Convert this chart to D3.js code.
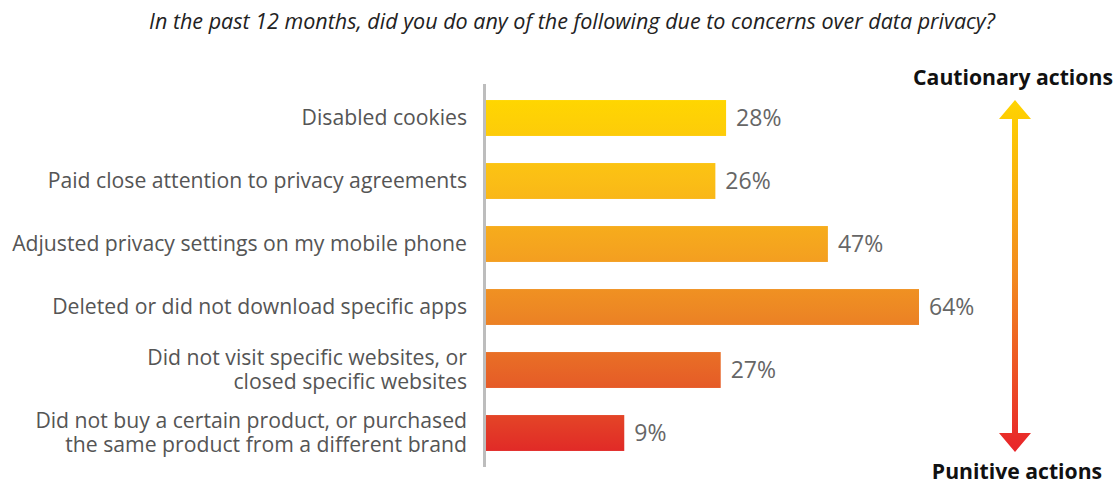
<!DOCTYPE html>
<html>
<head>
<meta charset="utf-8">
<script src="https://cdn.jsdelivr.net/npm/d3@7/dist/d3.min.js"></script>
<style>
  html, body { margin: 0; padding: 0; background: #fff; }
  svg { display: block; font-family: "Open Sans", sans-serif; }
</style>
</head>
<body>
<svg id="chart" width="1120" height="485"></svg>
<script>
// Survey responses: actions taken over data-privacy concerns
const categories = [
  ["Disabled cookies"],
  ["Paid close attention to privacy agreements"],
  ["Adjusted privacy settings on my mobile phone"],
  ["Deleted or did not download specific apps"],
  ["Did not visit specific websites, or", "closed specific websites"],
  ["Did not buy a certain product, or purchased", "the same product from a different brand"]
];
const values = [28, 26, 47, 64, 27, 9];
const valueLabels = ["28%", "26%", "47%", "64%", "27%", "9%"];
const title = "In the past 12 months, did you do any of the following due to concerns over data privacy?";
const topLabel = "Cautionary actions";
const bottomLabel = "Punitive actions";

const svg = d3.select("#chart");
const ids = d3.range(values.length);

const x = d3.scaleLinear().domain([-16.8, 64]).range([486, 919]);
const y = d3.scaleBand().domain(ids).range([86.5, 464.5])
  .paddingInner(0.43).paddingOuter(0.215);

const defs = svg.append("defs");
const barGrad = defs.append("linearGradient")
  .attr("id", "barGrad").attr("gradientUnits", "userSpaceOnUse")
  .attr("x1", 0).attr("x2", 0).attr("y1", y(0)).attr("y2", y(5) + y.bandwidth());
[[0, "#ffd600"], [0.22, "#fbbf15"], [0.45, "#f4a020"], [0.62, "#ec8424"], [0.8, "#e65f27"], [1, "#e12a27"]]
  .forEach(([o, c]) => barGrad.append("stop").attr("offset", o).attr("stop-color", c));

const arrowGrad = defs.append("linearGradient")
  .attr("id", "arrowGrad").attr("gradientUnits", "userSpaceOnUse")
  .attr("x1", 0).attr("x2", 0).attr("y1", 100).attr("y2", 452);
[[0, "#ffd400"], [0.5, "#f28a1f"], [1, "#e8242a"]]
  .forEach(([o, c]) => arrowGrad.append("stop").attr("offset", o).attr("stop-color", c));

// Title
svg.append("text")
  .attr("x", 572).attr("y", 29)
  .attr("text-anchor", "middle")
  .attr("font-style", "italic")
  .attr("font-size", 21.5)
  .attr("fill", "#222")
  .text(title);

// Bars
svg.append("g").selectAll("rect").data(ids).join("rect")
  .attr("x", x.range()[0])
  .attr("y", i => y(i))
  .attr("width", i => x(values[i]) - x.range()[0])
  .attr("height", y.bandwidth())
  .attr("fill", "url(#barGrad)");

// Value labels
svg.append("g").selectAll("text").data(ids).join("text")
  .attr("x", i => x(values[i]) + 10)
  .attr("y", i => y(i) + y.bandwidth() / 2)
  .attr("dy", "0.35em")
  .attr("font-size", 23)
  .attr("fill", "#666")
  .text(i => valueLabels[i]);

// Category labels, one text element per line
const lineH = 24;
const labelLines = ids.flatMap(i => categories[i].map((l, k) => ({
  text: l,
  cy: y(i) + y.bandwidth() / 2 + (k - (categories[i].length - 1) / 2) * lineH
})));
svg.append("g").selectAll("text").data(labelLines).join("text")
  .attr("text-anchor", "end")
  .attr("font-size", 21.2)
  .attr("fill", "#555")
  .attr("x", 467)
  .attr("y", d => d.cy)
  .attr("dy", "0.35em")
  .text(d => d.text);

// Vertical baseline
svg.append("line")
  .attr("x1", 484.5).attr("x2", 484.5).attr("y1", 84).attr("y2", 467)
  .attr("stroke", "#bdbdbd").attr("stroke-width", 3);

// Scale arrow from cautionary (top) to punitive (bottom)
const ax = 1015;
const arrow = d3.path();
arrow.moveTo(ax, 100);
arrow.lineTo(ax + 16, 119);
arrow.lineTo(ax + 3, 119);
arrow.lineTo(ax + 3, 433);
arrow.lineTo(ax + 16, 433);
arrow.lineTo(ax, 452);
arrow.lineTo(ax - 16, 433);
arrow.lineTo(ax - 3, 433);
arrow.lineTo(ax - 3, 119);
arrow.lineTo(ax - 16, 119);
arrow.closePath();
svg.append("path").attr("d", arrow.toString()).attr("fill", "url(#arrowGrad)");

svg.append("text")
  .attr("x", 1013).attr("y", 85)
  .attr("text-anchor", "middle")
  .attr("font-weight", "bold").attr("font-size", 21.2).attr("fill", "#111")
  .text(topLabel);
svg.append("text")
  .attr("x", 1017).attr("y", 479)
  .attr("text-anchor", "middle")
  .attr("font-weight", "bold").attr("font-size", 21.2).attr("fill", "#111")
  .text(bottomLabel);
</script>
</body>
</html>
